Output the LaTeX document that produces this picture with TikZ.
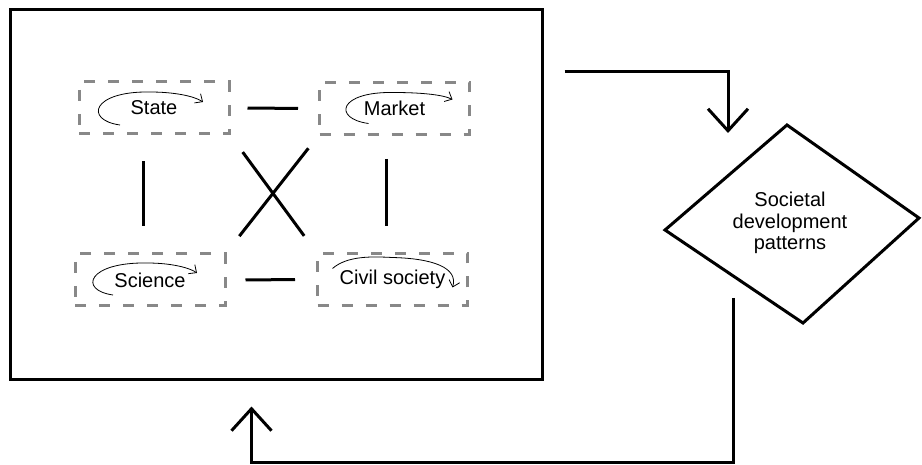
\documentclass[tikz,border=0pt]{standalone}
\usepackage{fontspec}
\setmainfont{Liberation Sans}
\usetikzlibrary{arrows.meta,calc}
\definecolor{dashgray}{RGB}{136,136,136}
\begin{document}
\begin{tikzpicture}[x=1pt,y=-1pt,
 box/.style={draw=dashgray, line width=3pt, dash pattern=on 11pt off 13pt, minimum width=150pt, minimum height=52pt, inner sep=0pt, font=\fontsize{20}{22}\selectfont},
 link/.style={line width=3pt},
 frame/.style={draw, line width=3pt, minimum width=532pt, minimum height=370pt, inner sep=0pt},
 bigarrow/.style={line width=3pt, -{Straight Barb[length=22pt,width=40pt]}},
 swirl/.style={line width=0.8pt, -{Straight Barb[length=6pt,width=11pt]}},
 lbl/.style={font=\fontsize{20}{21.5}\selectfont, align=center, inner sep=0pt}]
\useasboundingbox (0,0) rectangle (922,465);

% outer frame
\node[frame] (system) at (276,195) {};

% four actors
\node[box] (state)   at (154,108)   {State};
\node[box] (market)  at (394.5,108.5) {Market};
\node[box] (science) at (150,280)   {Science};
\node[box] (civil)   at (392.5,279.5) {Civil society};

% swirl arrows
\draw[swirl] ($(state)+(-34,17)$) .. controls ($(state)+(-70,12)$) and ($(state)+(-62,-17)$) .. ($(state)+(-4,-16)$)
   .. controls ($(state)+(20,-16)$) and ($(state)+(40,-12)$) .. ($(state)+(49,-6)$);
\draw[swirl] ($(market)+(-26,15)$) .. controls ($(market)+(-62,10)$) and ($(market)+(-56,-17)$) .. ($(market)+(-1,-16)$)
   .. controls ($(market)+(25,-16)$) and ($(market)+(48,-14)$) .. ($(market)+(58,-9)$);
\draw[swirl] ($(science)+(-37,15)$) .. controls ($(science)+(-72,10)$) and ($(science)+(-62,-18)$) .. ($(science)+(-3,-17)$)
   .. controls ($(science)+(22,-17)$) and ($(science)+(40,-12)$) .. ($(science)+(47,-7)$);
\draw[swirl] ($(civil)+(-60,-11)$) .. controls ($(civil)+(-45,-24)$) and ($(civil)+(-20,-23)$) .. ($(civil)+(0,-22)$)
   .. controls ($(civil)+(40,-21)$) and ($(civil)+(66,-12)$) .. ($(civil)+(60,8)$);

% links between actors
\draw[link, shorten <=17pt, shorten >=20pt] (state.east) -- (market.west);
\draw[link, shorten <=19pt, shorten >=21pt] (science.east) -- (civil.west);
\draw[link, shorten <=26pt, shorten >=26pt] ([xshift=-11pt]state.south) -- ([xshift=-7pt]science.north);
\draw[link, shorten <=23pt, shorten >=26pt] ([xshift=-8.5pt]market.south) -- ([xshift=-6.5pt]civil.north);
\draw[link, shorten <=20.6pt, shorten >=20pt] (state.south east) -- (civil.north west);
\draw[link, shorten <=15.6pt, shorten >=20.8pt] (market.south west) -- (science.north east);

% diamond
\coordinate (dtop) at (787,125);
\coordinate (dright) at (919,218);
\coordinate (dbot) at (803,323);
\coordinate (dleft) at (665,230);
\draw[line width=3pt] (dtop) -- (dright) -- (dbot) -- (dleft) -- cycle;
\node[lbl] (dev) at (790,223) {Societal\\development\\patterns};

% flow arrows
\coordinate (in1) at (728,133);
\draw[bigarrow] ($(system.north east)+(21,63)$) -| (in1);
\coordinate (out1) at (733,298);
\coordinate (fb) at (733,462);
\draw[bigarrow] (out1) -- (fb) -| ($(system.south west)+(243,25)$);
\end{tikzpicture}
\end{document}
